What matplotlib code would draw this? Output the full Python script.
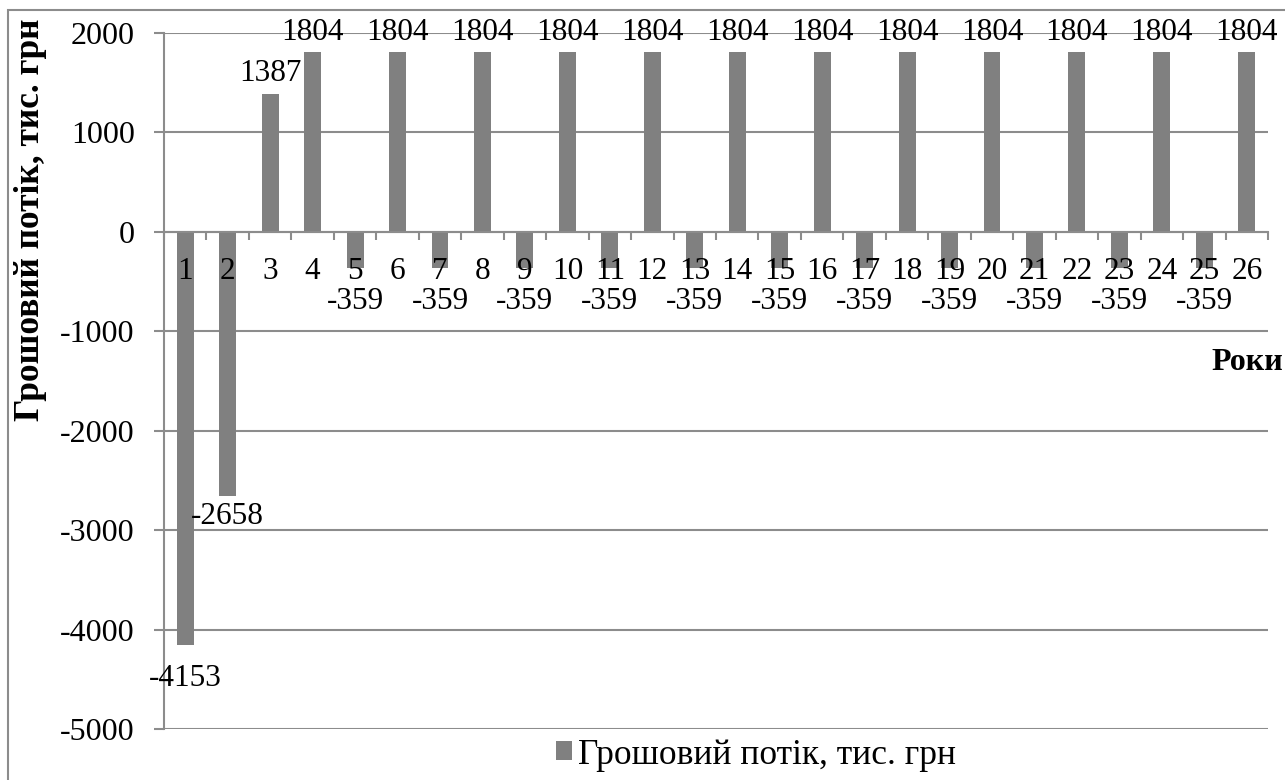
import matplotlib
matplotlib.use("Agg")
import matplotlib.pyplot as plt
from matplotlib.patches import Rectangle, Patch

years = list(range(1, 27))
cash_flow = [-4153, -2658, 1387, 1804, -359, 1804, -359, 1804, -359, 1804,
             -359, 1804, -359, 1804, -359, 1804, -359, 1804, -359, 1804,
             -359, 1804, -359, 1804, -359, 1804]
y_ticks = [2000, 1000, 0, -1000, -2000, -3000, -4000, -5000]
series_name = "Грошовий потік, тис. грн"
y_label = "Грошовий потік, тис. грн"
x_label = "Роки"

plt.rcParams['font.family'] = ['Liberation Serif', 'DejaVu Serif']

W, H = 1285, 780
fig = plt.figure(figsize=(W / 100, H / 100), dpi=100)
ax = fig.add_axes([164 / W, 1 - 729 / H, (1268 - 164) / W, (729 - 33) / H])

bar_color = '#808080'
grid_color = '#8c8c8c'

for yv in y_ticks:
    ax.axhline(yv, color=grid_color, linewidth=1.5, zorder=0.5)
ax.bar(years, cash_flow, width=0.40, color=bar_color, zorder=1)
ax.set_axisbelow(False)

ax.set_xlim(0.5, 26.5)
ax.set_ylim(-5000, 2000)
ax.set_yticks(y_ticks)
ax.set_yticklabels([str(v) for v in y_ticks], fontsize=23)
ax.tick_params(axis='y', direction='out', length=7, width=1.5, color=grid_color, pad=14)

for s in ['top', 'right']:
    ax.spines[s].set_visible(False)
ax.spines['left'].set_color(grid_color)
ax.spines['left'].set_linewidth(1.5)
ax.spines['bottom'].set_position(('data', 0))
ax.spines['bottom'].set_color(grid_color)
ax.spines['bottom'].set_linewidth(1.5)

ax.set_xticks(years)
ax.set_xticklabels([str(y) for y in years], fontsize=22.5)
ax.set_xticks([y + 0.5 for y in [0] + years], minor=True)
ax.tick_params(axis='x', which='major', length=0, pad=18)
ax.tick_params(axis='x', which='minor', direction='out', length=6, width=1.5, color=grid_color)

special_offsets = {2: -4}
for x, v in zip(years, cash_flow):
    if v >= 0:
        ax.annotate(str(v), xy=(x, v), xytext=(0, 4), textcoords='offset points',
                    ha='center', va='bottom', fontsize=22.5, zorder=4)
    else:
        off = special_offsets.get(x, -14)
        ax.annotate(str(v), xy=(x, v), xytext=(0, off), textcoords='offset points',
                    ha='center', va='top', fontsize=22.5, zorder=4)

fig.text(31 / W, 1 - 220 / H, y_label, rotation=90, fontsize=25.5, fontweight='bold',
         ha='center', va='center')
fig.text(1283 / W, 1 - 362 / H, x_label, fontsize=23, fontweight='bold',
         ha='right', va='center')

leg = fig.legend(handles=[Patch(facecolor=bar_color, edgecolor='none')], labels=[series_name],
                 loc='center', bbox_to_anchor=(756 / W, 1 - 755 / H), frameon=False,
                 fontsize=25.5, handlelength=0.45, handleheight=0.45, handletextpad=0.15)

fig.patches.append(Rectangle((8 / W, -0.1), 1.2, 1.1 - 10 / H, transform=fig.transFigure,
                             fill=False, edgecolor=grid_color, linewidth=1.5))

fig.savefig('out.png', dpi=100)
